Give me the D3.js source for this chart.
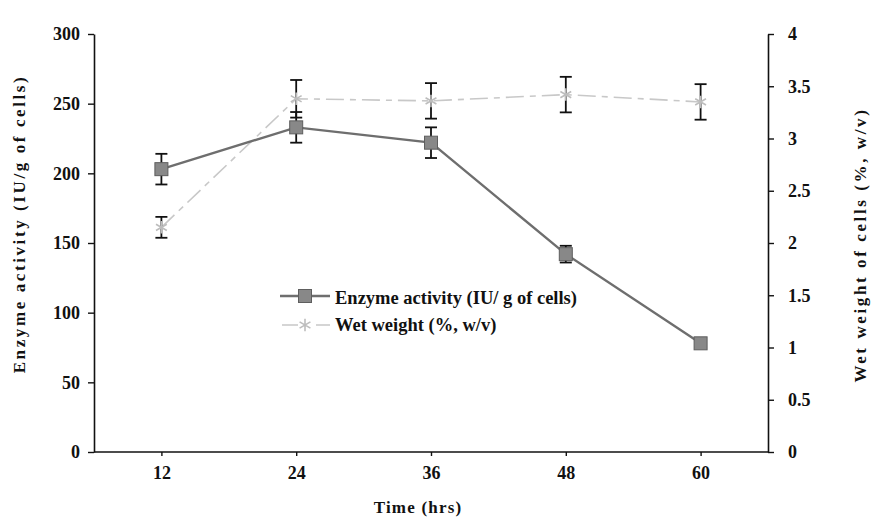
<!DOCTYPE html>
<html>
<head>
<meta charset="utf-8">
<script src="https://cdn.jsdelivr.net/npm/d3@7"></script>
<style>
  body { margin: 0; background: #fff; }
  svg text { font-family: "Liberation Serif", "Times New Roman", serif; font-weight: bold; fill: #111; }
</style>
</head>
<body>
<script>
// Values.
const hours = ["12", "24", "36", "48", "60"];
const enzyme = [203, 233, 222, 142, 78];
const enzymeErr = [11, 11, 11, 6, 3];
const wetWeight = [2.15, 3.38, 3.36, 3.42, 3.35];
const wetErr = [0.1, 0.18, 0.17, 0.17, 0.17];
const leftTicks = [0, 50, 100, 150, 200, 250, 300];
const rightTicks = [0, 0.5, 1, 1.5, 2, 2.5, 3, 3.5, 4];

const width = 873, height = 519;
const plotLeft = 94, plotRight = 768, plotTop = 34, plotBottom = 452;

const svg = d3.select("body").append("svg")
    .attr("width", width)
    .attr("height", height);

const x = d3.scalePoint().domain(hours).range([plotLeft, plotRight]).padding(0.5);
const yL = d3.scaleLinear().domain([0, 300]).range([plotBottom, plotTop]);
const yR = d3.scaleLinear().domain([0, 4]).range([plotBottom, plotTop]);

// Axes
const axLeft = svg.append("g")
    .attr("transform", `translate(${plotLeft},0)`)
    .call(d3.axisLeft(yL).tickValues(leftTicks).tickSize(6).tickSizeOuter(0).tickPadding(8));

const axRight = svg.append("g")
    .attr("transform", `translate(${plotRight},0)`)
    .call(d3.axisRight(yR).tickValues(rightTicks).tickFormat(d3.format("")).tickSize(6).tickSizeOuter(0).tickPadding(14));

const axBottom = svg.append("g")
    .attr("transform", `translate(0,${plotBottom})`)
    .call(d3.axisBottom(x).tickSize(4).tickSizeOuter(0).tickPadding(10));
axBottom.select(".domain").attr("d", `M${plotLeft},0H${plotRight}`);

[axLeft, axRight, axBottom].forEach((g) => {
  g.select(".domain").attr("stroke", "#111").attr("stroke-width", 1.6);
  g.selectAll(".tick line").attr("stroke", "#111").attr("stroke-width", 1.4);
  g.selectAll(".tick text").attr("font-size", 18).attr("font-family", null).attr("fill", "#111");
});

// Axis titles
svg.append("text")
    .attr("transform", `translate(25,224) rotate(-90)`)
    .attr("text-anchor", "middle")
    .attr("font-size", 17)
    .attr("letter-spacing", 2.6)
    .text("Enzyme activity (IU/g of cells)");

svg.append("text")
    .attr("transform", `translate(866,245) rotate(-90)`)
    .attr("text-anchor", "middle")
    .attr("font-size", 17)
    .attr("letter-spacing", 2.6)
    .text("Wet weight of cells (%, w/v)");

svg.append("text")
    .attr("x", 418)
    .attr("y", 513)
    .attr("text-anchor", "middle")
    .attr("font-size", 17)
    .attr("letter-spacing", 1.2)
    .text("Time (hrs)");

// Lines
const wetLine = d3.line().x((d, i) => x(hours[i])).y((d) => yR(d));
const enzLine = d3.line().x((d, i) => x(hours[i])).y((d) => yL(d));

svg.append("path")
    .datum(wetWeight)
    .attr("d", wetLine)
    .attr("fill", "none")
    .attr("stroke", "#c8c8c8")
    .attr("stroke-width", 1.6)
    .attr("stroke-dasharray", "18,6,6,6");

svg.append("path")
    .datum(enzyme)
    .attr("d", enzLine)
    .attr("fill", "none")
    .attr("stroke", "#6e6e6e")
    .attr("stroke-width", 2.4);

// Error bars
function errorBars(values, errs, scale) {
  const g = svg.append("g").attr("stroke", "#111").attr("stroke-width", 1.8);
  values.forEach((v, i) => {
    const cx = x(hours[i]);
    const y1 = scale(v + errs[i]), y2 = scale(v - errs[i]);
    g.append("line").attr("x1", cx).attr("x2", cx).attr("y1", y1).attr("y2", y2);
    g.append("line").attr("x1", cx - 6).attr("x2", cx + 6).attr("y1", y1).attr("y2", y1);
    g.append("line").attr("x1", cx - 6).attr("x2", cx + 6).attr("y1", y2).attr("y2", y2);
  });
}
errorBars(wetWeight, wetErr, yR);
errorBars(enzyme, enzymeErr, yL);

// Markers
const star = d3.symbol().type(d3.symbolAsterisk).size(110);

svg.append("g")
  .selectAll("path")
  .data(wetWeight)
  .join("path")
    .attr("transform", (d, i) => `translate(${x(hours[i])},${yR(d)})`)
    .attr("d", star)
    .attr("fill", "none")
    .attr("stroke", "#bdbdbd")
    .attr("stroke-width", 1.6);

svg.append("g")
  .selectAll("rect")
  .data(enzyme)
  .join("rect")
    .attr("x", (d, i) => x(hours[i]) - 6.5)
    .attr("y", (d) => yL(d) - 6.5)
    .attr("width", 13)
    .attr("height", 13)
    .attr("fill", "#888")
    .attr("stroke", "#5e5e5e")
    .attr("stroke-width", 1);

// Legend
const legend = svg.append("g").attr("transform", "translate(280,296)");

legend.append("line")
    .attr("x1", 0).attr("x2", 50).attr("y1", 0).attr("y2", 0)
    .attr("stroke", "#6e6e6e").attr("stroke-width", 2.4);
legend.append("rect")
    .attr("x", 18.5).attr("y", -6.5).attr("width", 13).attr("height", 13)
    .attr("fill", "#888").attr("stroke", "#5e5e5e");
legend.append("text")
    .attr("x", 55).attr("y", 8)
    .attr("font-size", 18.5)
    .text("Enzyme activity (IU/ g of cells)");

legend.append("line")
    .attr("x1", 2).attr("x2", 50).attr("y1", 29).attr("y2", 29)
    .attr("stroke", "#c8c8c8").attr("stroke-width", 1.6)
    .attr("stroke-dasharray", "16,18,14");
legend.append("path")
    .attr("transform", "translate(25,29)")
    .attr("d", star)
    .attr("fill", "none").attr("stroke", "#bdbdbd").attr("stroke-width", 1.6);
legend.append("text")
    .attr("x", 55).attr("y", 35)
    .attr("font-size", 18.5)
    .text("Wet weight (%, w/v)");
</script>
</body>
</html>
